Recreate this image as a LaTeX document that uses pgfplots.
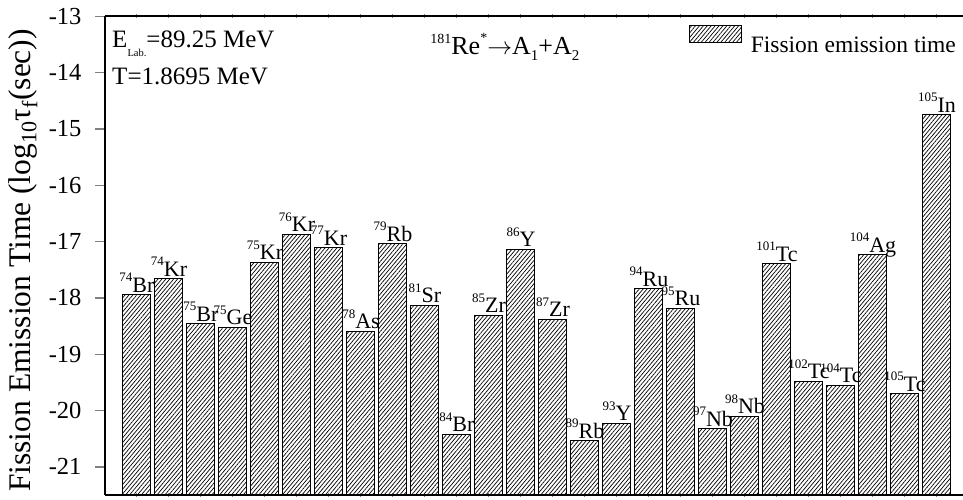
\documentclass[border=0pt]{standalone}
\usepackage{fontspec}
\setmainfont{Liberation Serif}
\usepackage{pgfplots}
\pgfplotsset{compat=1.18}
\usetikzlibrary{patterns.meta}

% isotope label: small raised mass number, then the element
\DeclareRobustCommand\iso[2]{\raisebox{10.5pt}{\fontsize{13}{13}\selectfont #1}#2}

\begin{document}
\begin{tikzpicture}
\begin{axis}[
    scale only axis,
    width=858pt, height=478.7pt,
    ybar, bar width=0.9,
    xmin=-0.984, xmax=25.83,
    ymin=0, ymax=8.5,
    y filter/.expression={y+21.5},
    ytick={0.5,1.5,...,8.5},
    yticklabels={-21,-20,-19,-18,-17,-16,-15,-14,-13},
    xtick={0,...,25}, xticklabels={},
    axis x line*=box, axis y line*=left,
    axis line style={line width=1.6pt},
    ytick align=outside, major tick length=10pt,
    ytick style={line width=1.4pt},
    xtick align=center,
    xtick style={line width=1pt, /pgfplots/major tick length=4pt},
    ticklabel style={font=\fontsize{24.5}{24.5}\selectfont},
    yticklabel style={xshift=-10pt},
    ylabel={Fission Emission Time (log\textsubscript{10}τ\textsubscript{f}(sec))},
    ylabel style={font=\fontsize{31.5}{31.5}\selectfont, at={(axis description cs:-0.1166,0.49)}, anchor=north},
    point meta=explicit symbolic,
    nodes near coords,
    every node near coord/.append style={anchor=base, yshift=2.5pt, xshift=0.5pt, inner sep=0pt,
        font=\fontsize{22}{22}\selectfont, black},
    legend image code/.code={\draw[#1, line width=0.8pt] (0pt,3pt) rectangle (52pt,20pt);},
    legend style={draw=none, fill=none, at={(1,1)}, anchor=north east, xshift=-7pt, yshift=-8.7pt,
        inner sep=0pt, column sep=9pt, nodes={inner sep=0pt}, font=\fontsize{23.5}{23.5}\selectfont},
    clip=false,
]
\addplot[draw=black, line width=0.9pt,
    pattern={Lines[angle=50, distance=3pt, line width=0.7pt]}]
coordinates {
    (0,-17.94) [\iso{74}{Br}]
    (1,-17.66) [\iso{74}{Kr}]
    (2,-18.46) [\iso{75}{Br}]
    (3,-18.52) [\iso{75}{Ge}]
    (4,-17.37) [\iso{75}{Kr}]
    (5,-16.87) [\iso{76}{Kr}]
    (6,-17.11) [\iso{77}{Kr}]
    (7,-18.59) [\iso{78}{As}]
    (8,-17.04) [\iso{79}{Rb}]
    (9,-18.13) [\iso{81}{Sr}]
    (10,-20.42) [\iso{84}{Br}]
    (11,-18.31) [\iso{85}{Zr}]
    (12,-17.14) [\iso{86}{Y}]
    (13,-18.38) [\iso{87}{Zr}]
    (14,-20.54) [\iso{89}{Rb}]
    (15,-20.23) [\iso{93}{Y}]
    (16,-17.84) [\iso{94}{Ru}]
    (17,-18.18) [\iso{95}{Ru}]
    (18,-20.32) [\iso{97}{Nb}]
    (19,-20.10) [\iso{98}{Nb}]
    (20,-17.39) [\iso{101}{Tc}]
    (21,-19.48) [\iso{102}{Tc}]
    (22,-19.55) [\iso{104}{Tc}]
    (23,-17.23) [\iso{104}{Ag}]
    (24,-19.70) [\iso{105}{Tc}]
    (25,-14.75) [\iso{105}{In}]
};
\addlegendentry{Fission emission time}

\node[anchor=base west, inner sep=0pt, font=\fontsize{25}{25}\selectfont]
    at (rel axis cs:0.0082,0.934)
    {E\raisebox{-9pt}{\fontsize{10.5}{11}\selectfont Lab.}=89.25 MeV};
\node[anchor=base west, inner sep=0pt, font=\fontsize{25}{25}\selectfont]
    at (rel axis cs:0.0082,0.8565) {T=1.8695 MeV};
\node[anchor=base west, inner sep=0pt, font=\fontsize{26}{26}\selectfont]
    at (rel axis cs:0.379,0.921)
    {\raisebox{11pt}{\fontsize{14}{14}\selectfont 181}Re\raisebox{12pt}{\fontsize{14}{14}\selectfont *}$\rightarrow$A\raisebox{-6pt}{\fontsize{15}{15}\selectfont 1}+A\raisebox{-6pt}{\fontsize{15}{15}\selectfont 2}};
\end{axis}
\pgfresetboundingbox
\path[use as bounding box] (current axis.south west) ++(-105pt,-5pt) rectangle ++(963pt,500pt);
\end{tikzpicture}
\end{document}
